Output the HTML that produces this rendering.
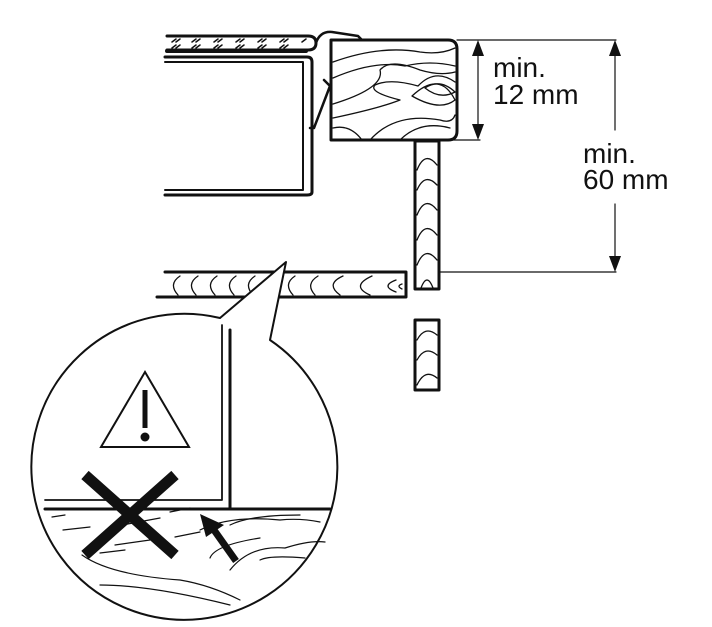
<!DOCTYPE html>
<html><head><style>html,body{margin:0;padding:0;background:#fff}svg{display:block}</style></head>
<body>
<svg width="712" height="627" viewBox="0 0 712 627" xmlns="http://www.w3.org/2000/svg" font-family="Liberation Sans, sans-serif">
<g fill="none" stroke="#111" stroke-linecap="round" stroke-linejoin="round">
<path d="M167 36 H308 Q316 36 316 43 Q316 50 308 50 H167" stroke-width="3"/>
<path d="M167 51 H306" stroke-width="4"/>
<g stroke-width="1.5">
<path d="M172 42l4-3M176 42l4-3M192 42l4-3M196 42l4-3M214 42l4-3M218 42l4-3M236 42l4-3M240 42l4-3M258 42l4-3M262 42l4-3M280 42l4-3M284 42l4-3M302 42l4-3"/>
<path d="M172 48l4-3M176 48l4-3M192 48l4-3M196 48l4-3M214 48l4-3M218 48l4-3M236 48l4-3M240 48l4-3M258 48l4-3M262 48l4-3M280 48l4-3M284 48l4-3"/>
</g>
<path d="M316 43 Q320 31 332 32 L358 36 L362 40" stroke-width="2.5"/>
<path d="M165 62 H303 V190 H165" stroke-width="2"/>
<path d="M165 57 H307 Q312 57 312 62 V192 Q312 195 307 195 H165" stroke-width="3"/>
<path d="M324 80 L330 86 L314 128 L310 128" stroke-width="2.5"/>
<path d="M331 40 H448 Q457 40 457 49 V131 Q457 140 448 140 H331 Z" stroke-width="3"/>
<g stroke-width="1.3">
<path d="M333 62 Q380 45 420 52 Q440 55 455 48"/>
<path d="M333 78 Q375 60 405 66 Q430 60 455 66"/>
<path d="M333 104 Q385 88 380 70 Q390 58 420 70 Q440 76 455 72"/>
<path d="M333 118 Q380 108 400 100 Q368 92 375 85 Q390 78 418 86 Q435 68 455 82"/>
<path d="M370 140 Q395 112 440 120 Q452 124 455 115"/>
<path d="M333 128 Q350 124 362 140"/>
<path d="M400 140 Q420 120 450 128"/>
<path d="M425 88 Q440 78 455 92 Q440 100 425 88"/>
<path d="M412 96 Q440 70 455 100 Q440 112 412 96"/>
</g>
<rect x="415" y="141" width="24" height="148" stroke-width="3"/>
<rect x="415" y="320" width="24" height="70" stroke-width="3"/>
<g stroke-width="1.3">
<path d="M417 170 Q425 150 437 165M417 190 Q425 172 437 185M417 215 Q425 195 437 210M417 240 Q425 220 437 235M417 265 Q425 245 437 260M421 288 Q427 272 433 288"/>
<path d="M417 340 Q425 325 437 335M417 360 Q425 345 437 355M417 385 Q425 368 437 378"/>
</g>
<path d="M165 272 H406 V297 H157" stroke-width="3"/>
<g stroke-width="1.3">
<path d="M180 276 Q168 284 178 295M198 276 Q186 284 196 295M217 276 Q205 284 215 295M236 276 Q224 284 234 295M255 276 Q243 284 253 295M295 276 Q283 284 293 295M318 276 Q305 284 315 295M343 276 Q325 284 340 295M372 276 Q350 286 370 295M396 280 Q380 286 396 292M402 284 Q396 286 402 289"/>
</g>
<g stroke-width="1.2">
<path d="M457 40 H616M440 140 H480M440 272 H616"/>
<path d="M478 52 V128M615 52 V130M615 204 V262"/>
</g>
<path d="M220 318 L286 262 L270 340 A153 153 0 1 1 220 318" stroke-width="2" fill="#fff"/>
<path d="M222 325 V500 H45" stroke-width="1.8"/>
<path d="M230 330 V509" stroke-width="3"/>
<path d="M45 509 H330" stroke-width="3"/>
<g stroke-width="1.2">
<path d="M52 517 L65 515M63 530 L90 527M122 525 L160 518M170 512 L190 508M115 545 L150 540M175 537 L200 532M100 553 L125 550"/>
<path d="M82 555 Q110 575 180 580 Q210 585 240 600M100 585 Q150 585 230 605M200 530 Q230 515 280 520 Q300 518 320 522M230 570 Q250 545 285 548 Q310 540 325 542M260 560 Q270 555 305 558M210 558 Q215 545 260 538"/>
<path d="M230 525 Q250 515 300 515"/>
</g>
</g>
<path d="M145 372 L101 447 H189 Z" fill="none" stroke="#111" stroke-width="2"/>
<rect x="142.5" y="390" width="5" height="38" fill="#111"/>
<circle cx="145" cy="437" r="4.5" fill="#111"/>
<path d="M85 475 L175 555M175 475 L85 555" stroke="#111" stroke-width="11"/>
<path d="M236 561 L214 530" stroke="#111" stroke-width="7"/>
<path d="M200 514 L224 525 L206 537 Z" fill="#111"/>
<g fill="#111">
<path d="M478 40 L472 56 H484 Z"/><path d="M478 140 L472 124 H484 Z"/>
<path d="M615 40 L609 56 H621 Z"/><path d="M615 272 L609 256 H621 Z"/>
</g>
<g fill="#111" font-size="28">
<text x="493" y="77">min.</text><text x="493" y="104">12 mm</text>
<text x="583" y="163">min.</text><text x="583" y="189">60 mm</text>
</g>
</svg>
</body></html>
